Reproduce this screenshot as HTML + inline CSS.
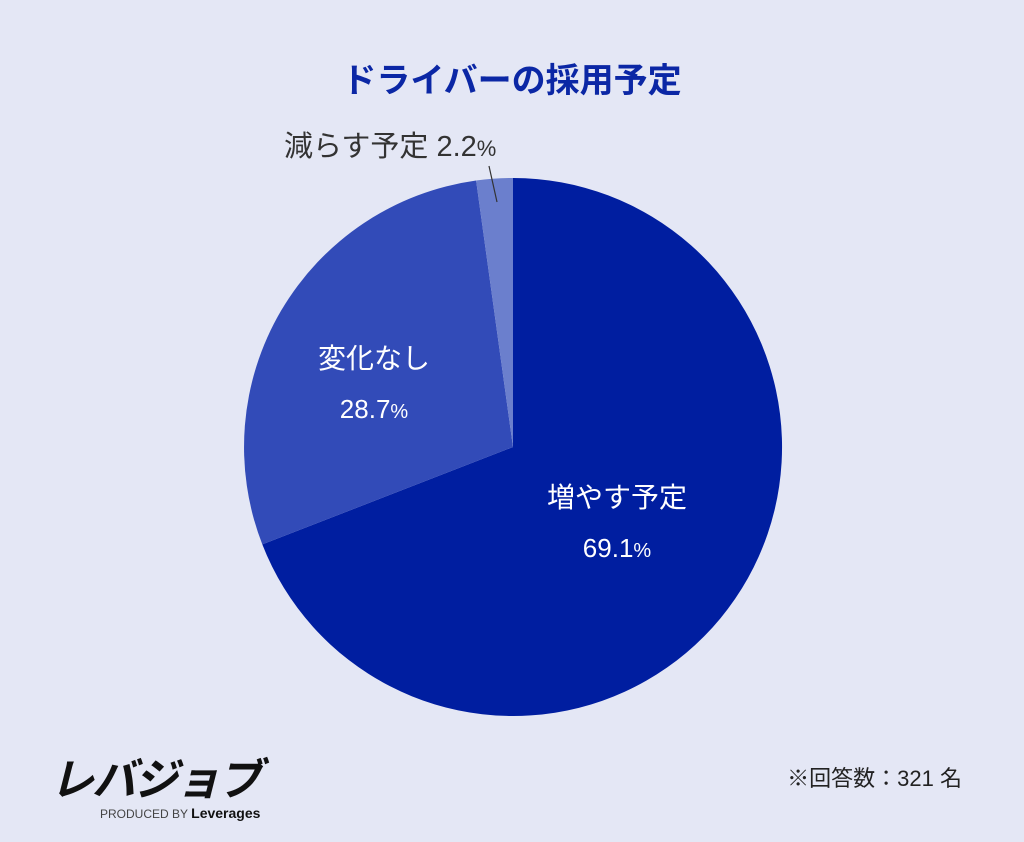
<!DOCTYPE html>
<html><head><meta charset="utf-8"><style>
html,body{margin:0;padding:0;width:1024px;height:842px;background:#e4e7f5;overflow:hidden}
svg{display:block}
text{font-family:"Liberation Sans","Noto Sans CJK JP",sans-serif}
</style></head><body>
<svg width="1024" height="842" viewBox="0 0 1024 842">
<rect width="1024" height="842" fill="#e4e7f5"/>
<text x="512" y="92" text-anchor="middle" font-size="34" font-weight="bold" fill="#0b27a5">ドライバーの採用予定</text>
<path d="M513,447 L513,178 A269,269 0 1 1 262.3,544.4 Z" fill="#001ea0"/>
<path d="M513,447 L262.3,544.4 A269,269 0 0 1 476.1,180.5 Z" fill="#324bb8"/>
<path d="M513,447 L476.1,180.5 A269,269 0 0 1 513,178 Z" fill="#6b7fcd"/>
<line x1="489" y1="166" x2="497" y2="202" stroke="#333" stroke-width="1.2"/>
<text x="284" y="156" font-size="29" fill="#333">減らす予定 2.2<tspan font-size="22">%</tspan></text>
<text x="374" y="368" text-anchor="middle" font-size="28" fill="#fff">変化なし</text>
<text x="374" y="418" text-anchor="middle" font-size="26" fill="#fff">28.7<tspan font-size="20">%</tspan></text>
<text x="617" y="507" text-anchor="middle" font-size="28" fill="#fff">増やす予定</text>
<text x="617" y="557" text-anchor="middle" font-size="26" fill="#fff">69.1<tspan font-size="20">%</tspan></text>
<text x="50" y="795" font-size="44" font-weight="bold" font-style="italic" fill="#111" letter-spacing="-2">レバジョブ</text>
<text x="100" y="818" font-size="12" fill="#444">PRODUCED BY <tspan font-weight="bold" font-size="14" fill="#111">Leverages</tspan></text>
<text x="962" y="786" text-anchor="end" font-size="22" fill="#222">※回答数：321 名</text>
</svg>
</body></html>
